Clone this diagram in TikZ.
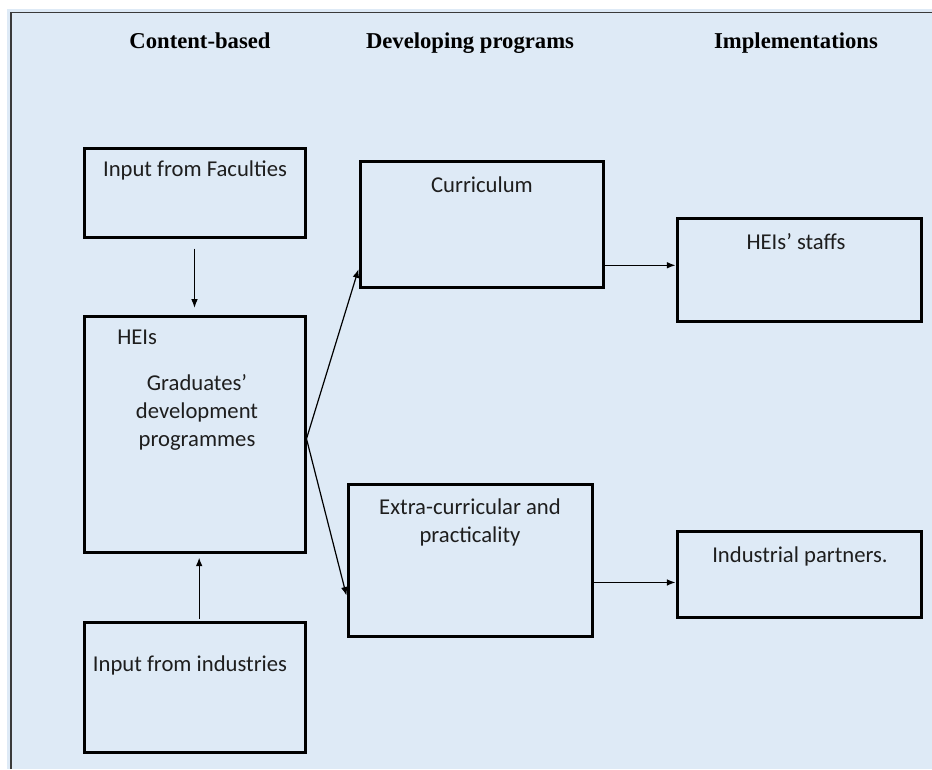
\documentclass[tikz,border=0pt]{standalone}
\usepackage{fontspec}
\setmainfont{Carlito}
\newfontfamily\headfont{Liberation Serif}
\usetikzlibrary{arrows.meta,fit,calc}
\definecolor{panel}{HTML}{DEEAF6}
\definecolor{frameline}{HTML}{3A3A3A}
\definecolor{ink}{HTML}{1E1E1E}

\begin{document}
\begin{tikzpicture}[x=0.75pt,y=-0.75pt,
  box/.style={draw=black, line width=2.25pt, inner sep=0pt},
  head/.style={font=\headfont\bfseries\fontsize{17}{21}\selectfont, anchor=base, inner sep=0pt},
  txt/.style={font=\fontsize{17}{21}\selectfont, text=ink, inner sep=0pt, anchor=base},
  arr/.style={-{Latex[length=6.5pt,width=5pt]}, line width=0.9pt}]
  \useasboundingbox (0,0) rectangle (932,769);
  % page and panel frame
  \fill[white] (0,0) rectangle (932,769);
  \fill[panel] (7,9) rectangle (932,769);
  \draw[frameline, line width=1pt] (11,769) -- (11,12.5) -- (932,12.5);

  % column headings
  \node[head] (h1) at (200,48) {Content-based};
  \node[head] (h2) at (470,48) {Developing programs};
  \node[head] (h3) at (796,48) {Implementations};

  % boxes
  \node[box, fit={(84,148)(305,237)}] (fac) {};
  \node[box, fit={(84,316)(305,552)}] (heis) {};
  \node[box, fit={(84,622)(305,752)}] (ind) {};
  \node[box, fit={(360,161)(603,287)}] (cur) {};
  \node[box, fit={(348,484)(592,636)}] (ext) {};
  \node[box, fit={(677,218)(921,321)}] (staff) {};
  \node[box, fit={(677,531)(921,617)}] (part) {};

  % box texts (multi-line nodes sit on the baseline of their last line)
  \node[txt] (tfac) at (195,176) {Input from Faculties};
  \node[txt, anchor=base west] (theis) at (117,344) {HEIs};
  \node[txt, align=center] (tgrad) at (197,446) {Graduates’\\development\\programmes};
  \node[txt] (tind) at (190,671) {Input from industries};
  \node[txt] (tcur) at (482,192) {Curriculum};
  \node[txt, align=center] (text) at (470,542) {Extra-curricular and\\practicality};
  \node[txt] (tstaff) at (796,249) {HEIs’ staffs};
  \node[txt] (tpart) at (800,562) {Industrial partners.};

  % connectors
  \draw[arr, shorten <=7.5pt, shorten >=5pt] (fac.south) -- (heis.north);
  \draw[arr, shorten <=1.5pt, shorten >=3pt] ([xshift=3.5pt]ind.north) -- ([xshift=3.5pt]heis.south);
  \draw[arr] ($(heis.north east)!0.52!(heis.south east)$) coordinate (fork)
        -- ($(cur.south west)!0.15!(cur.north west)$);
  \draw[arr] (fork) -- ($(ext.north west)!0.73!(ext.south west)$);
  \draw[arr] ($(cur.north east)!0.82!(cur.south east)$) coordinate (c1) -- (c1 -| staff.west);
  \draw[arr] ($(ext.north east)!0.645!(ext.south east)$) coordinate (e1) -- (e1 -| part.west);
\end{tikzpicture}
\end{document}
